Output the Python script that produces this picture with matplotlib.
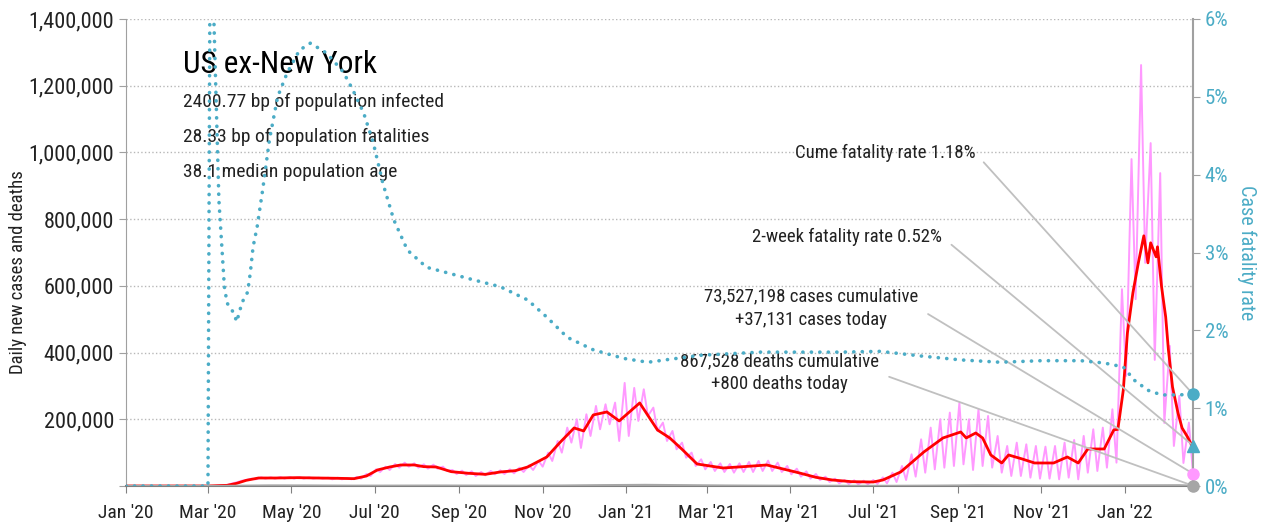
import matplotlib
matplotlib.use("Agg")
import numpy as np
import pandas as pd
import matplotlib.pyplot as plt
import matplotlib.dates as mdates
from matplotlib.ticker import FuncFormatter

plt.rcParams['font.family'] = ['Roboto Condensed', 'DejaVu Sans']

CYAN = '#4bacc6'
PINK = '#ff99ff'
RED = '#ff0000'
GRAY = '#a6a6a6'

# ---- data (thousands of cases unless noted) ----
week_start = "2020-03-02"  # Mondays, 103 weeks
pink_peak = [0, 2, 8, 16, 22, 26, 26, 27, 27, 27, 26, 25, 25, 25, 24, 27, 36, 50, 58, 66,
             70, 68, 65, 64, 58, 48, 46, 44, 42, 45, 47, 50, 55, 62, 75, 100, 135, 175, 200, 215,
             240, 245, 250, 309,
             294, 290, 235, 190, 165, 130, 100, 80, 72, 68, 66, 68, 72, 75, 76, 70, 60, 52, 44, 36,
             28, 22, 18, 17, 16, 18, 26, 40, 60, 95, 140, 175, 200, 220, 249, 200, 230, 210, 150, 120,
             130, 125, 120, 118, 120, 130, 138, 150, 170, 175, 230, 590,
             980, 1262, 1028, 938, 420, 270, 190]
pink_trough = [1, 3, 11, 18, 20, 22, 22, 22, 22, 22, 22, 22, 20, 20, 20, 22, 30, 42, 48, 55,
               58, 55, 52, 52, 45, 36, 33, 30, 32, 35, 36, 38, 42, 48, 58, 75, 100, 130, 114, 150,
               170, 185, 135, 150,
               195, 210, 165, 135, 110, 85, 60, 50, 45, 42, 40, 42, 42, 45, 45, 42, 35, 28, 22, 18,
               12, 8, 6, 5, 5, 6, 8, 12, 18, 28, 40, 50, 55, 60, 65, 48, 60, 55, 40, 30,
               30, 25, 22, 22, 20, 25, 20, 40, 45, 55, 70, 330,
               560, 669, 378, 189, 120, 69, 37.131]

red_dates = ["2020-01-01", "2020-03-01", "2020-03-15", "2020-03-22", "2020-03-29", "2020-04-07",
             "2020-04-20", "2020-05-05", "2020-05-20", "2020-06-05", "2020-06-16", "2020-06-25",
             "2020-07-03", "2020-07-12", "2020-07-20", "2020-07-30", "2020-08-06", "2020-08-15",
             "2020-08-26", "2020-09-08", "2020-09-20", "2020-10-01", "2020-10-12", "2020-10-21",
             "2020-11-04", "2020-11-14", "2020-11-24", "2020-12-01", "2020-12-08", "2020-12-18",
             "2020-12-27", "2021-01-01", "2021-01-11", "2021-01-24", "2021-02-02", "2021-02-11",
             "2021-02-22", "2021-03-13", "2021-03-28", "2021-04-14", "2021-04-25", "2021-05-08",
             "2021-05-20", "2021-06-01", "2021-06-15", "2021-07-01", "2021-07-08", "2021-07-21",
             "2021-08-07", "2021-08-21", "2021-09-03", "2021-09-07", "2021-09-14", "2021-09-19",
             "2021-09-25", "2021-10-03", "2021-10-08", "2021-10-18", "2021-10-27", "2021-11-10",
             "2021-11-20", "2021-11-28", "2021-12-05", "2021-12-17", "2021-12-24", "2021-12-27",
             "2021-12-31", "2022-01-03", "2022-01-07", "2022-01-11", "2022-01-15", "2022-01-18",
             "2022-01-20", "2022-01-24", "2022-01-25", "2022-01-28", "2022-01-31", "2022-02-02",
             "2022-02-05", "2022-02-09", "2022-02-12", "2022-02-16", "2022-02-20"]
red_vals = [0, 0, 2, 8, 17, 24, 24, 25, 24, 23, 22, 30, 48, 57, 63, 63, 58, 57, 43, 38, 35, 42,
            46, 57, 87, 132, 174, 165, 213, 222, 195, 213, 249, 168, 144, 110, 66, 54, 58, 63, 52,
            39, 26, 18, 13, 12, 18, 42, 102, 144, 162, 144, 159, 144, 93, 69, 93, 81, 69, 69, 87,
            69, 111, 111, 168, 170, 288, 459, 579, 669, 750, 669, 729, 687, 717, 597, 507, 408,
            297, 219, 174, 147, 115]

death_dates = ["2020-01-01", "2020-03-10", "2020-04-15", "2020-05-15", "2020-06-15", "2020-07-15",
               "2020-08-15", "2020-09-15", "2020-10-15", "2020-11-15", "2020-12-15", "2021-01-15",
               "2021-02-15", "2021-03-15", "2021-04-15", "2021-05-15", "2021-06-15", "2021-07-15",
               "2021-08-15", "2021-09-15", "2021-10-15", "2021-11-15", "2021-12-15", "2022-01-15",
               "2022-02-10", "2022-02-20"]
death_vals = [0, 0, 1.5, 1.3, 0.7, 0.8, 1.1, 0.8, 0.7, 1.2, 2.4, 3.2, 2.2, 1.2, 0.7, 0.6, 0.3, 0.25,
              0.8, 1.8, 1.5, 1.0, 1.2, 1.8, 2.1, 0.8]

cfr_dates = ["2020-01-01", "2020-03-01", "2020-03-03", "2020-03-05", "2020-03-09", "2020-03-13",
             "2020-03-15", "2020-03-20", "2020-03-22", "2020-03-26", "2020-03-30", "2020-04-01",
             "2020-04-03", "2020-04-06", "2020-04-10", "2020-04-15", "2020-04-21", "2020-04-28",
             "2020-05-07", "2020-05-15", "2020-05-27", "2020-06-08", "2020-06-15", "2020-06-23",
             "2020-06-30", "2020-07-07", "2020-07-15", "2020-07-25", "2020-08-08", "2020-08-23",
             "2020-09-11", "2020-10-01", "2020-10-21", "2020-11-04", "2020-11-19", "2020-12-08",
             "2020-12-30", "2021-01-17", "2021-02-03", "2021-02-25", "2021-04-09", "2021-06-07",
             "2021-07-06", "2021-08-05", "2021-09-03", "2021-10-02", "2021-11-01", "2021-11-30",
             "2021-12-17", "2021-12-31", "2022-01-08", "2022-01-18", "2022-01-28", "2022-02-09",
             "2022-02-20"]
cfr_vals = [0, 0, 9.0, 6.2, 3.67, 2.56, 2.35, 2.22, 2.11, 2.36, 2.49, 2.74, 3.07, 3.33, 3.80, 4.45,
            5.00, 5.31, 5.60, 5.69, 5.56, 5.32, 5.09, 4.79, 4.41, 3.89, 3.42, 3.03, 2.81, 2.74, 2.65,
            2.56, 2.39, 2.17, 1.91, 1.75, 1.64, 1.59, 1.63, 1.68, 1.72, 1.72, 1.73, 1.67, 1.62, 1.59,
            1.61, 1.61, 1.58, 1.53, 1.36, 1.23, 1.17, 1.17, 1.18]

cume_cfr = 1.18
two_week_cfr = 0.52
cases_today = 37131
deaths_today = 800

title = "US ex-New York"
stats = ["2400.77 bp of population infected",
         "28.33 bp of population fatalities",
         "38.1 median population age"]

# ---- build series ----
mondays = pd.date_range(week_start, periods=len(pink_peak), freq="7D")
pk = pd.Series(np.array(pink_peak) * 1000, index=mondays + pd.Timedelta(days=3))
tr = pd.Series(np.array(pink_trough) * 1000, index=mondays + pd.Timedelta(days=6))
pre = pd.Series([0.0, 0.0], index=pd.to_datetime(["2020-01-01", "2020-02-29"]))
pink = pd.concat([pre, pk, tr]).sort_index()

red_x = pd.to_datetime(red_dates)
red_y = np.array(red_vals) * 1000
death_x = pd.to_datetime(death_dates)
death_y = np.array(death_vals) * 1000
cfr_x = pd.to_datetime(cfr_dates)
end = pd.Timestamp("2022-02-20")

fig = plt.figure(figsize=(12.65, 5.25), dpi=100)
ax = fig.add_axes([126 / 1265, 39 / 525, 1067 / 1265, 467 / 525])
ax2 = ax.twinx()

ax.plot(pink.index, pink.values, color=PINK, lw=1.4, zorder=2)
ax.plot(red_x, red_y, color=RED, lw=2.0, zorder=3)
ax.plot(death_x, death_y, color=GRAY, lw=1.6, zorder=3)
ax2.plot(cfr_x, cfr_vals, color=CYAN, lw=2.6, linestyle=(0, (0.05, 2.3)),
         dash_capstyle='round', zorder=2)

ax.set_xlim(pd.Timestamp("2020-01-01"), end)
ax.set_ylim(0, 1400000)
ax2.set_ylim(0, 6)
ax.set_yticks(np.arange(0, 1400001, 200000))
ax.yaxis.set_major_formatter(FuncFormatter(lambda v, p: "" if v == 0 else f"{int(v):,}"))
ax2.set_yticks(np.arange(0, 7, 1))
ax2.yaxis.set_major_formatter(FuncFormatter(lambda v, p: f"{int(v)}%"))

ax.xaxis.set_major_locator(mdates.MonthLocator(bymonth=[1, 3, 5, 7, 9, 11]))
ax.xaxis.set_major_formatter(mdates.DateFormatter("%b '%y"))

ax.grid(axis='y', linestyle=':', color='#b8b8b8', lw=1)
ax.set_axisbelow(True)

for a in (ax, ax2):
    a.spines['top'].set_visible(False)
ax.spines['right'].set_visible(False)
ax2.spines['left'].set_visible(False)
ax2.spines['bottom'].set_visible(False)
ax.spines['left'].set_color('#a0a0a0')
ax.spines['bottom'].set_color('#808080')
ax.spines['bottom'].set_linewidth(1.5)
ax2.spines['right'].set_color('#a0a0a0')
ax2.spines['right'].set_linewidth(1.5)

ax.tick_params(axis='y', labelsize=16, colors='#222222', length=5, color='#a0a0a0')
ax.tick_params(axis='x', labelsize=14, colors='#222222', length=5, color='#808080', pad=8)
ax2.tick_params(axis='y', labelsize=15, colors=CYAN, length=5, color='#a0a0a0')

ax.set_ylabel("Daily new cases and deaths", fontsize=13.5, color='#222222')
ax.yaxis.set_label_coords(-0.093, 0.458)
ax2.set_ylabel("Case fatality rate", fontsize=14.5, color=CYAN, rotation=270, labelpad=20)

# headline text
ax.text(0.053, 0.903, title, transform=ax.transAxes, fontsize=22.5, va='center', color='black')
for i, s in enumerate(stats):
    ax.text(0.053, 0.822 - i * 0.075, s, transform=ax.transAxes, fontsize=14,
            va='center', color='#222222')

# end markers and callouts
line_kw = dict(arrowstyle='-', color='#c0c0c0', lw=1.3, shrinkA=6, shrinkB=2, relpos=(1, 0.5))
ax2.plot(end, cume_cfr, 'o', color=CYAN, ms=8, clip_on=False, zorder=10)
ax2.plot(end, two_week_cfr, '^', color=CYAN, ms=9, clip_on=False, zorder=10)
ax2.plot(end, cases_today / 1400000 * 6, 'o', color=PINK, ms=8, clip_on=False, zorder=10)
ax2.plot(end, deaths_today / 1400000 * 6, 'o', color=GRAY, ms=8, clip_on=False, zorder=10)

ax2.annotate(f"Cume fatality rate {cume_cfr:.2f}%", xy=(end, cume_cfr),
             xytext=(0.796, 0.713), textcoords='axes fraction', ha='right', va='center',
             fontsize=13.5, color='#222222', arrowprops=line_kw, zorder=1)
ax2.annotate(f"2-week fatality rate {two_week_cfr:.2f}%", xy=(end, two_week_cfr),
             xytext=(0.765, 0.533), textcoords='axes fraction', ha='right', va='center',
             fontsize=13.5, color='#222222', arrowprops=line_kw, zorder=1)
ax2.annotate(f"73,527,198 cases cumulative\n+{cases_today:,} cases today",
             xy=(end, cases_today / 1400000 * 6),
             xytext=(0.642, 0.381), textcoords='axes fraction', ha='center', va='center',
             fontsize=13.5, color='#222222', linespacing=1.35, arrowprops=line_kw, zorder=1)
ax2.annotate(f"867,528 deaths cumulative\n+{deaths_today:,} deaths today",
             xy=(end, deaths_today / 1400000 * 6),
             xytext=(0.612, 0.242), textcoords='axes fraction', ha='center', va='center',
             fontsize=13.5, color='#222222', linespacing=1.35, arrowprops=line_kw, zorder=1)

fig.savefig("out.png", dpi=100)
